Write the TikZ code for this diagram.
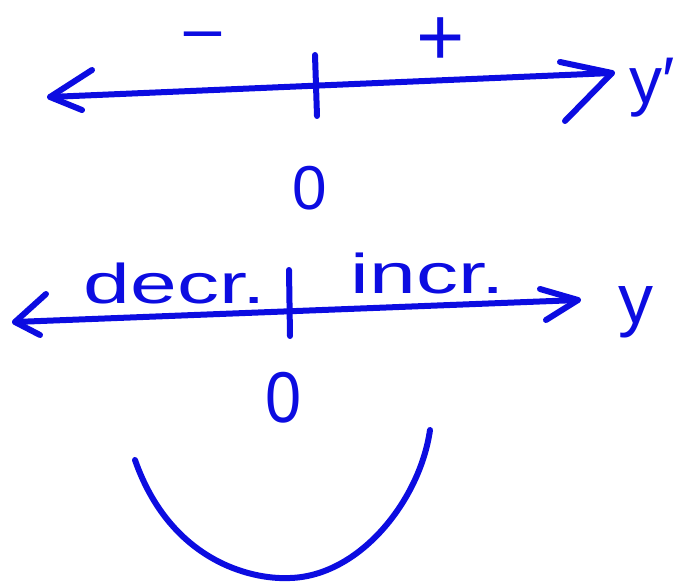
\documentclass[tikz,border=0pt]{standalone}
\usepackage{fontspec}
\setmainfont{Liberation Sans}
\definecolor{pen}{RGB}{12,12,225}
\begin{document}
\begin{tikzpicture}[x=1pt,y=-1pt,
  ink/.style={draw=pen,line width=6pt,line cap=round,line join=round},
  lab/.style={text=pen,inner sep=0pt,font=\fontsize{#1}{#1}\selectfont},
  lab/.default=52]
\useasboundingbox (0,0) rectangle (694,586);
% ---- top number line (y')
\coordinate (a1) at (50,97);
\coordinate (a2) at (612,73);
\draw[ink] (a1) -- (a2);
\draw[ink] (92,70) -- (a1) -- (82,110);
\draw[ink] (560,62) -- (a2) -- (565,121);
\coordinate (t1a) at (315,55);
\coordinate (t1b) at (317,116);
\draw[ink] (t1a) -- (t1b);
\node[lab=64] (minus) at (203,44) {\scalebox{1.2}[1]{−}};
\node[lab=72] (plus) at (441,42) {\scalebox{1.15}{+}};
\node[lab=66] (yp) at (652,88) {y′};
\node[lab=62] (z1) at (310,188) {0};
% ---- bottom number line (y)
\coordinate (b1) at (15,322);
\coordinate (b2) at (578,300);
\draw[ink] (b1) -- (b2);
\draw[ink] (46,294) -- (b1) -- (40,335);
\draw[ink] (540,289) -- (b2) -- (546,320);
\coordinate (t2a) at (289,270);
\coordinate (t2b) at (290,336);
\draw[ink] (t2a) -- (t2b);
\node[lab=56] (decr) at (175,283) {\scalebox{1.5}[1]{decr.}};
\node[lab=56] (incr) at (428,273) {\scalebox{1.5}[1]{incr.}};
\node[lab=70] (yy) at (636,312) {y};
\node[lab=72] (z2) at (284,398) {\scalebox{0.9}[1]{0}};
% ---- parabola
\coordinate (p1) at (135,460);
\coordinate (p2) at (290,578);
\coordinate (p3) at (430,430);
\draw[ink] (p1) .. controls (170,560) and (250,580) .. (p2)
  .. controls (360,576) and (420,500) .. (p3);
\end{tikzpicture}
\end{document}
